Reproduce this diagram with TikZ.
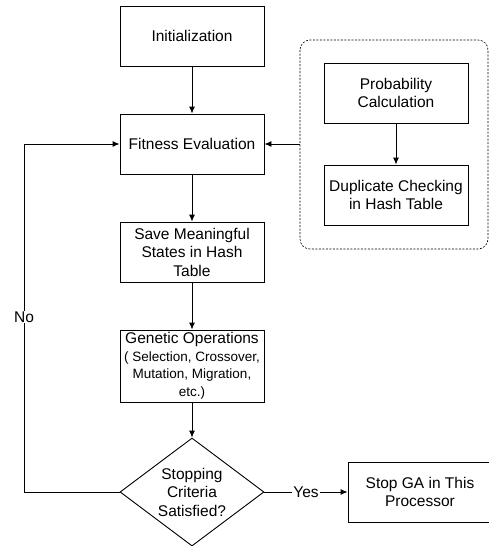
\documentclass[tikz,border=0pt]{standalone}
\usepackage{fontspec}
\setmainfont{Liberation Sans}
\usetikzlibrary{arrows.meta,shapes.geometric}

\tikzset{
    flowbox/.style={draw, line width=0.9pt, minimum width=144pt, minimum height=60pt,
        align=center, inner sep=1pt, font=\fontsize{15.5}{18.5}\selectfont},
    decision/.style={draw, line width=0.9pt, diamond, aspect=1.333, minimum width=144pt,
        minimum height=108pt, inner sep=0pt, align=center, font=\fontsize{15.5}{18.5}\selectfont},
    flow/.style={line width=0.9pt, -{Latex[length=7pt,width=6pt]}},
}

\begin{document}
\begin{tikzpicture}[x=1pt, y=-1pt]

    \useasboundingbox (0,0) rectangle (489,546);

    %% Main loop

    % Boxes
    \node[flowbox] (init) at (192,36) {Initialization};
    \node[flowbox] (fit) at (192,144) {Fitness Evaluation};
    \node[flowbox] (save) at (192,252) {Save Meaningful\\States in Hash\\Table};
    \node[flowbox, minimum height=72pt] (gen) at (192,366)
        {Genetic Operations\\[-1pt]{\fontsize{13.5}{16}\selectfont ( Selection, Crossover,}\\[-1pt]
         {\fontsize{13.5}{16}\selectfont Mutation, Migration,}\\[-1pt]{\fontsize{13.5}{16}\selectfont etc.)}};
    \node[decision] (stop) at (192,492) {Stopping\\Criteria\\Satisfied?};
    \node[flowbox] (halt) at (420,492) {Stop GA in This\\Processor};

    % Side block
    \draw[line width=0.6pt, dash pattern=on 2pt off 1.5pt, rounded corners=10pt]
        (300,40) rectangle (488,249);
    \coordinate (side) at (300,144);
    \node[flowbox] (prob) at (396,93) {Probability\\Calculation};
    \node[flowbox] (dup) at (396,195) {Duplicate Checking\\in Hash Table};

    % Arrows
    \draw[flow] (init) -- (fit);
    \draw[flow] (fit) -- (save);
    \draw[flow] (save) -- (gen);
    \draw[flow] (gen) -- (stop);
    \draw[flow] (prob) -- (dup);
    \draw[flow] (side) -- (fit);
    \draw[flow] (stop) -- node[fill=white, inner sep=1pt, font=\fontsize{15.5}{18.5}\selectfont] {Yes} (halt);
    \draw[flow] (stop.west) -- (24,492) -- (24,144) -- (fit.west);
    \node[fill=white, inner sep=1pt, font=\fontsize{15.5}{18.5}\selectfont] (no) at (24,317) {No};

\end{tikzpicture}
\end{document}
